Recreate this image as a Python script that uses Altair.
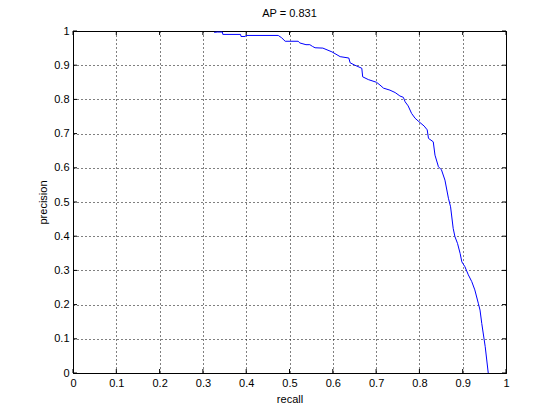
import altair as alt
import pandas as pd

recall = [0.326, 0.333, 0.345, 0.346, 0.387, 0.388, 0.398, 0.399, 0.474, 0.482,
          0.490, 0.520, 0.524, 0.538, 0.547, 0.553, 0.559, 0.577, 0.598, 0.617,
          0.637, 0.640, 0.651, 0.667, 0.669, 0.682, 0.701, 0.709, 0.717, 0.732,
          0.744, 0.755, 0.763, 0.767, 0.774, 0.782, 0.790, 0.797, 0.811, 0.818,
          0.821, 0.832, 0.836, 0.844, 0.851, 0.859, 0.867, 0.872, 0.878, 0.882,
          0.888, 0.894, 0.898, 0.905, 0.913, 0.921, 0.928, 0.936, 0.940, 0.944,
          0.952, 0.959]
precision = [0.996, 0.997, 0.997, 0.990, 0.990, 0.984, 0.984, 0.987, 0.987, 0.980,
             0.970, 0.970, 0.965, 0.960, 0.960, 0.955, 0.951, 0.950, 0.939, 0.925,
             0.921, 0.907, 0.900, 0.891, 0.866, 0.858, 0.850, 0.842, 0.833, 0.827,
             0.820, 0.810, 0.806, 0.793, 0.781, 0.759, 0.745, 0.737, 0.722, 0.711,
             0.686, 0.676, 0.637, 0.603, 0.594, 0.564, 0.511, 0.486, 0.423, 0.399,
             0.379, 0.350, 0.325, 0.311, 0.287, 0.267, 0.243, 0.204, 0.184, 0.145,
             0.077, 0.0]
ticks = [0, 0.1, 0.2, 0.3, 0.4, 0.5, 0.6, 0.7, 0.8, 0.9, 1]
title_text = "AP = 0.831"

W, H = 433, 342
curve = pd.DataFrame({"recall": recall, "precision": precision, "order": list(range(len(recall)))})
tk = pd.DataFrame({"t": ticks})

xs = alt.Scale(domain=[0, 1], nice=False, zero=False)
ys = alt.Scale(domain=[0, 1], nice=False, zero=False)
lbl = "datum.value == 0 ? '0' : datum.value == 1 ? '1' : format(datum.value, '.1f')"

base = alt.Chart(curve).mark_line(color="#0000ff", strokeWidth=1, clip=True).encode(
    x=alt.X("recall:Q", scale=xs, title="recall",
            axis=alt.Axis(values=ticks, labelExpr=lbl, grid=True, ticks=False,
                          labelOverlap=False, labelFlush=False, tickCount=11)),
    y=alt.Y("precision:Q", scale=ys, title="precision",
            axis=alt.Axis(values=ticks, labelExpr=lbl, grid=True, ticks=False,
                          labelOverlap=False, labelFlush=False, tickCount=11)),
    order="order:Q",
)

bt = alt.Chart(tk).mark_rule(color="black", strokeWidth=1).encode(
    x=alt.X("t:Q", scale=xs), y=alt.value(H), y2=alt.value(H - 4))
tt = alt.Chart(tk).mark_rule(color="black", strokeWidth=1).encode(
    x=alt.X("t:Q", scale=xs), y=alt.value(0), y2=alt.value(4))
lt = alt.Chart(tk).mark_rule(color="black", strokeWidth=1).encode(
    y=alt.Y("t:Q", scale=ys), x=alt.value(0), x2=alt.value(4))
rt = alt.Chart(tk).mark_rule(color="black", strokeWidth=1).encode(
    y=alt.Y("t:Q", scale=ys), x=alt.value(W - 4), x2=alt.value(W))

chart = alt.layer(base, bt, tt, lt, rt).properties(
    width=W, height=H,
    title=alt.TitleParams(title_text, fontSize=11, fontWeight="normal",
                          font="Liberation Sans", color="black", offset=6),
    autosize=alt.AutoSizeParams(type="none"),
    padding={"left": 65, "top": 23, "right": 45, "bottom": 40},
).configure_view(stroke="black", strokeWidth=1).configure_axis(
    domainColor="black", domainWidth=1,
    gridColor="black", gridDash=[1, 3], gridOpacity=1, gridWidth=1,
    labelFont="Liberation Sans", labelFontSize=11, labelColor="black",
    labelPadding=4,
    titleFont="Liberation Sans", titleFontSize=11, titleFontWeight="normal",
    titleColor="black",
).configure_axisX(titlePadding=5).configure_axisY(titlePadding=5)

chart.save("out.html", embed_options={"renderer": "svg", "actions": False})
